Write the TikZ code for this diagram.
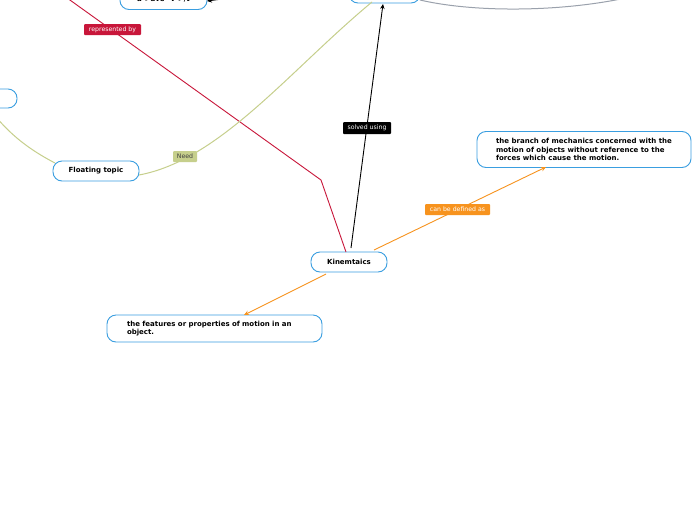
\documentclass[tikz,border=0pt]{standalone}
\usepackage{fontspec}
\setmainfont{DejaVu Sans}
\usetikzlibrary{arrows.meta}
\definecolor{nodeblue}{HTML}{3A9EE0}
\definecolor{lred}{HTML}{C8163A}
\definecolor{lorange}{HTML}{F7931E}
\definecolor{lgreen}{HTML}{C6CF8C}
\definecolor{lgrey}{HTML}{9AA1AC}
\tikzset{
  topic/.style={draw=nodeblue, line width=0.9pt, rounded corners=9pt, fill=white,
    font=\fontsize{7}{8.6}\selectfont\bfseries, inner sep=0pt, align=left},
  lbl/.style={rounded corners=1pt, inner sep=0pt, font=\fontsize{6.2}{7}\selectfont, text=white},
  tip/.style={-{Stealth[length=5pt,width=4.5pt]}},
}
\begin{document}
\begin{tikzpicture}[x=1pt,y=-1pt]
\useasboundingbox (0,0) rectangle (696,520);
\fill[white] (0,0) rectangle (696,520);

% nodes
\node[topic, minimum width=76pt, minimum height=20pt] (kin) at (349,262) {Kinemtaics};
\node[topic, minimum width=86pt, minimum height=20pt] (float) at (96,171) {Floating topic};
\node[topic, minimum width=214pt, minimum height=36pt] (def) at (584,149.5)
  {the branch of mechanics concerned with the\\motion of objects without reference to the\\forces which cause the motion.};
\node[topic, minimum width=215pt, minimum height=27pt, text width=175pt] (feat) at (214.5,328.5)
  {the features or properties of motion in an\\object.};
\node[topic, minimum width=71pt, minimum height=20pt] (top) at (384.5,-7) {};
\node[topic, minimum width=87pt, minimum height=20pt] (avg) at (163.5,-0.5) {a->ave=v->/t};
\node[topic, minimum width=114pt, minimum height=19pt] (left) at (-40,98.5) {};

% coordinates
\coordinate (rstart) at (42,-20);
\coordinate (rbend) at (321,180);
\coordinate (kintop) at (346,252);
\coordinate (kinup) at (351,248);
\coordinate (topbot) at (383,4);
\coordinate (avgsrc) at (245,-4);
\coordinate (avgend) at (207,1);
\coordinate (greys) at (420,0);
\coordinate (greye) at (650,-8);
\coordinate (greens) at (372,2);
\coordinate (floatr) at (139,175);
\coordinate (floatl) at (55,163);
\coordinate (leftb) at (-8,112);
\coordinate (kinr) at (374,250);
\coordinate (defb) at (546,167);
\coordinate (kinb) at (326,274);
\coordinate (featt) at (244,315);

% connectors
\draw[lred, line width=0.9pt] (rstart) -- (rbend) -- (kintop);
\draw[black, line width=0.9pt, tip] (kinup) -- (topbot);
\draw[black, line width=0.9pt, tip] (avgsrc) -- (avgend);
\draw[lgrey, line width=1pt] (greys) .. controls (480,14) and (580,12) .. (greye);
\draw[lgreen, line width=1pt] (greens) .. controls (290,70) and (220,160) .. (floatr);
\draw[lgreen, line width=1pt] (floatl) .. controls (30,150) and (10,135) .. (leftb);
\draw[lorange, line width=0.9pt, tip] (kinr) -- (defb);
\draw[lorange, line width=0.9pt, tip] (kinb) -- (featt);

% labels
\node[lbl, fill=lred, minimum width=57pt, minimum height=11pt] (l1) at (112.5,29.5) {represented by};
\node[lbl, fill=black, minimum width=48pt, minimum height=12pt] (l2) at (367,128) {solved using};
\node[lbl, fill=lgreen, text=black!75, minimum width=24pt, minimum height=11pt] (l3) at (185,156.5) {Need};
\node[lbl, fill=lorange, minimum width=65pt, minimum height=11pt] (l4) at (457.5,209.5) {can be defined as};
\end{tikzpicture}
\end{document}
